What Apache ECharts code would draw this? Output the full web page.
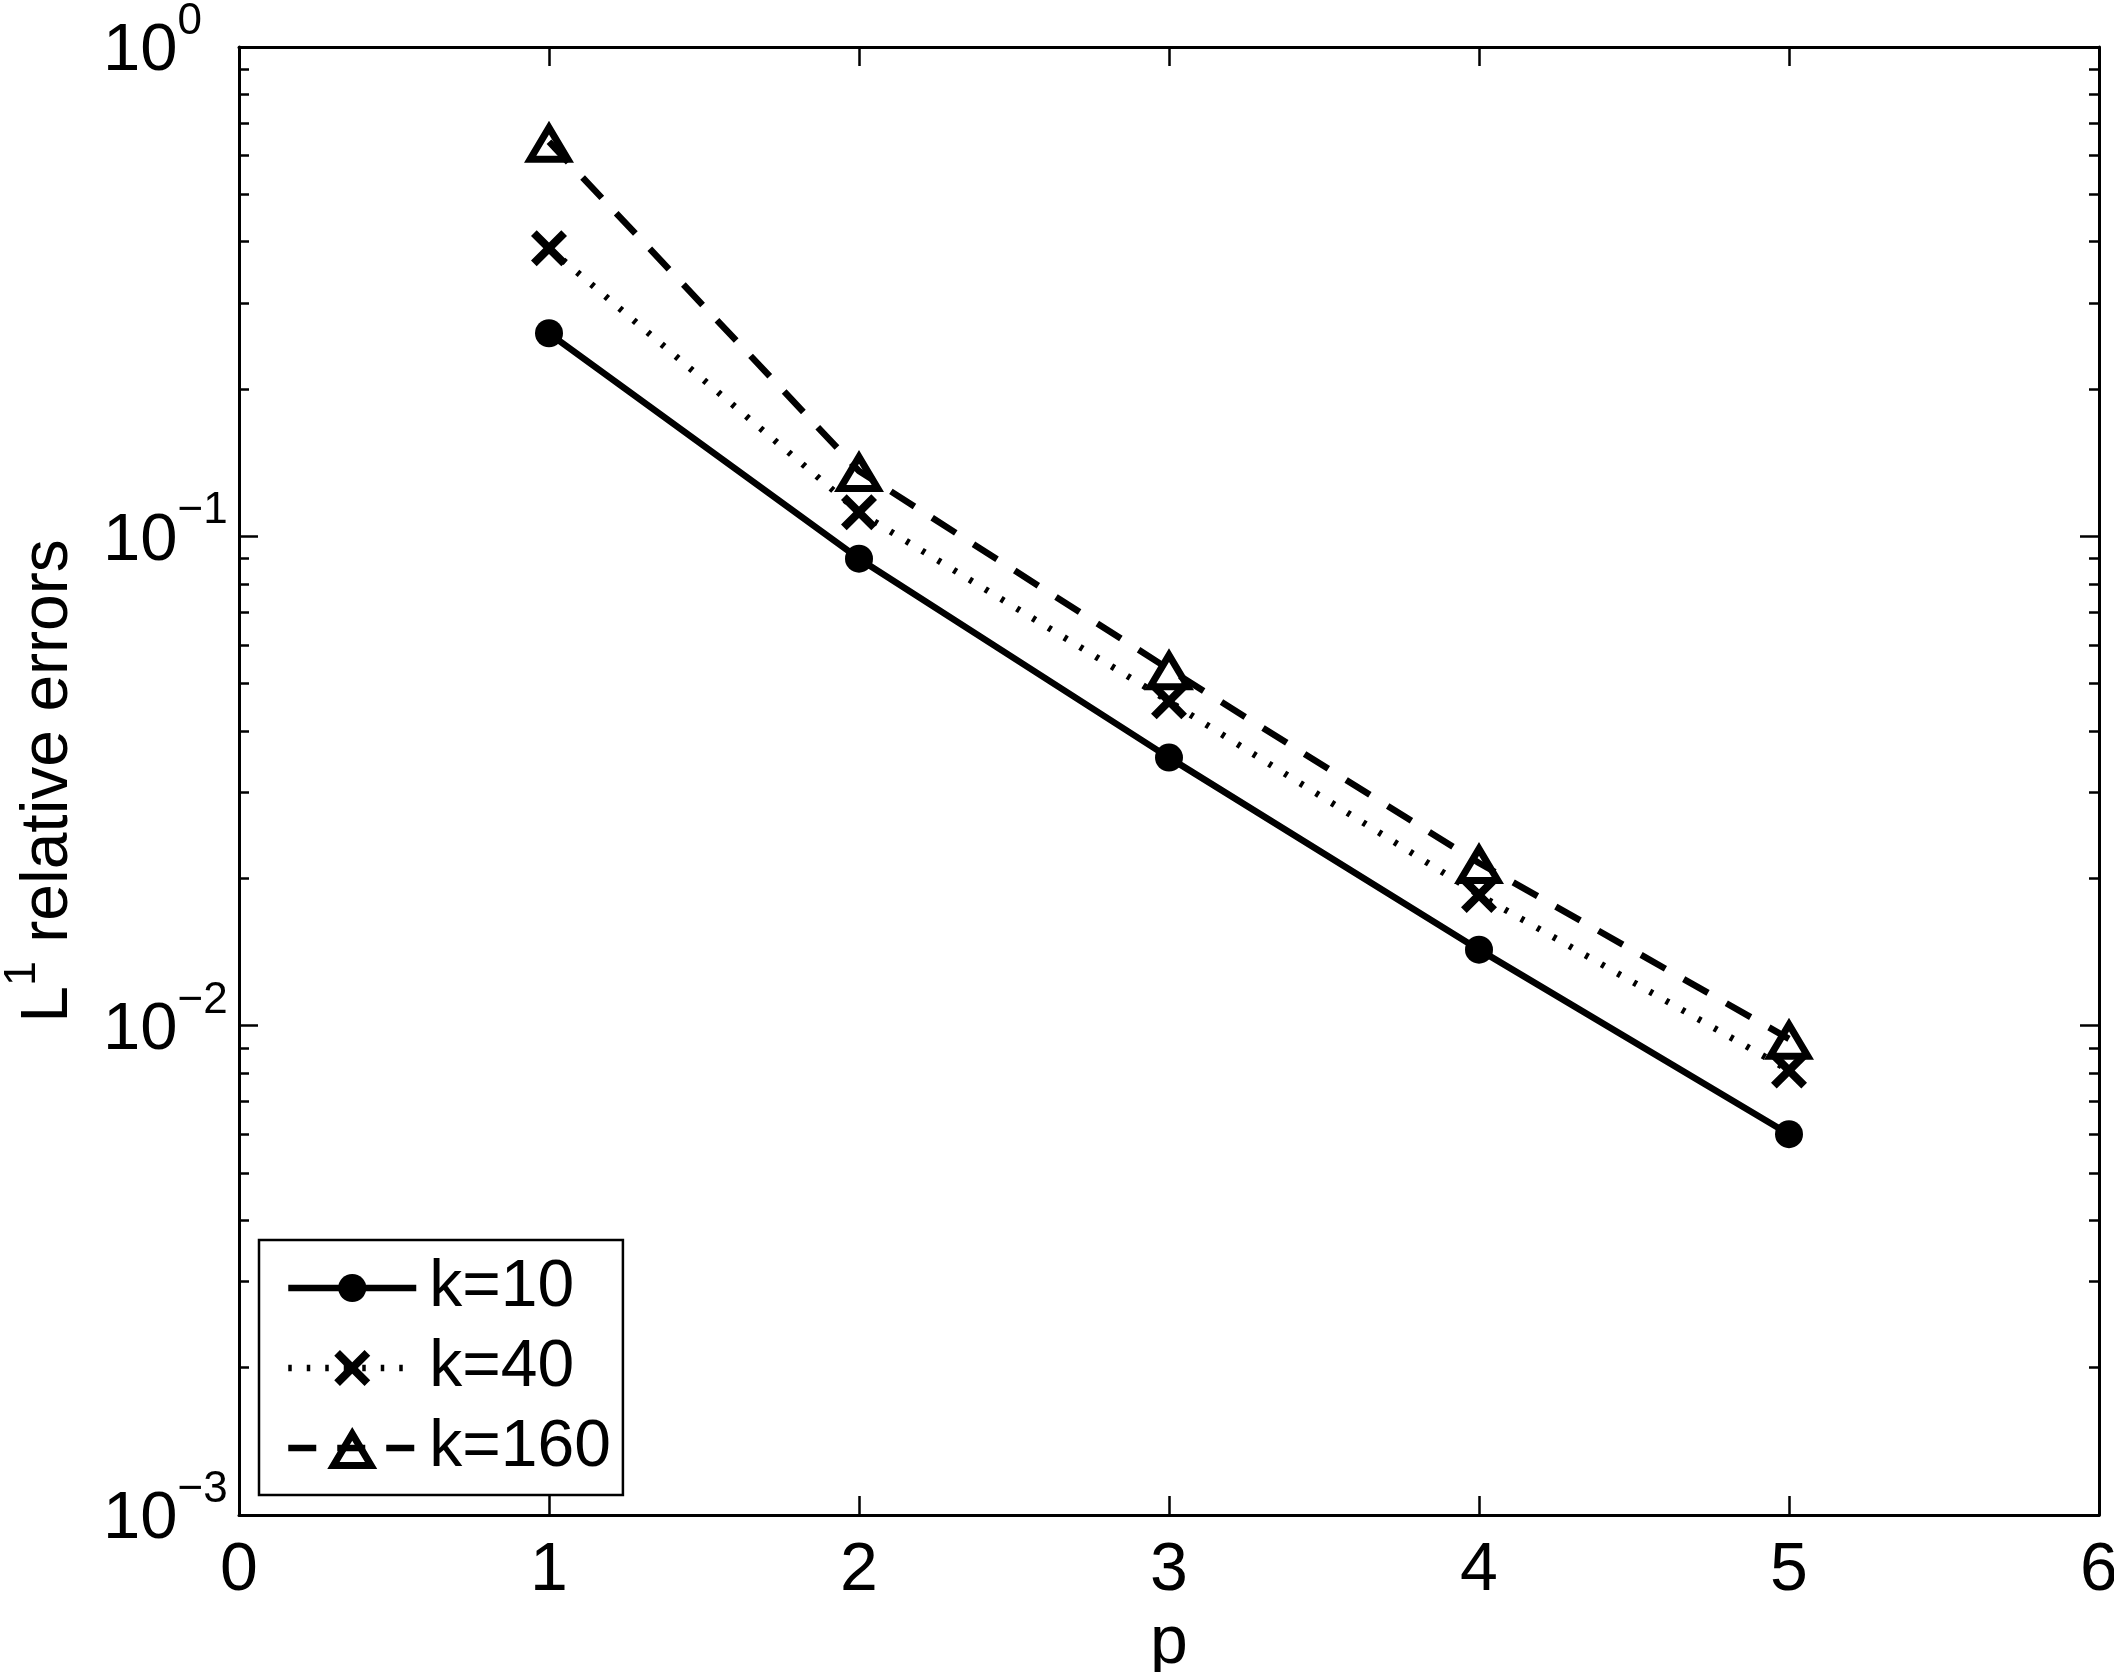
<!DOCTYPE html>
<html>
<head>
<meta charset="utf-8">
<script src="https://cdn.jsdelivr.net/npm/echarts@6/dist/echarts.min.js"></script>
<style>
html,body{margin:0;padding:0;background:#fff;}
#chart{width:2114px;height:1672px;}
</style>
</head>
<body>
<div id="chart"></div>
<script>
// ---- data ----
const pValues = [1, 2, 3, 4, 5];
const errK10 = [0.26, 0.090, 0.0353, 0.0143, 0.0060];
const errK40 = [0.388, 0.112, 0.046, 0.0185, 0.0081];
const errK160 = [0.64, 0.136, 0.0535, 0.0215, 0.0094];
const seriesNames = ['k=10', 'k=40', 'k=160'];
const xTickLabels = ['0', '1', '2', '3', '4', '5', '6'];
const yTickExponents = ['\u22123', '\u22122', '\u22121', '0'];
const yAxisTitle = ['L', '1', ' relative errors'];
const xAxisTitle = 'p';
const minorMantissas = [2, 3, 4, 5, 6, 7, 8, 9];
const minorDecades = [-3, -2, -1];

const FONT = '"Liberation Sans", Arial, Helvetica, sans-serif';

const minorLogTicks = [];
minorDecades.forEach(d => minorMantissas.forEach(m => minorLogTicks.push(d + Math.log10(m))));

const pairs = arr => pValues.map((p, i) => [p, arr[i]]);

// symbols in a common 50x50 box
const SYM_CIRCLE = 'path://M0,0 M50,50 M11,25 A14,14 0 1,1 39,25 A14,14 0 1,1 11,25 Z';
const SYM_CROSS = 'path://M0,0 M50,50 M7,12.7 L12.7,7 L25,19.3 L37.3,7 L43,12.7 L30.7,25 L43,37.3 L37.3,43 L25,30.7 L12.7,43 L7,37.3 L19.3,25 Z';
const SYM_TRI = 'path://M0,0 M50,50 M25,4 L50,46 L0,46 Z M25,17.7 L12.32,38.99 L37.68,38.99 Z';

const LW = 6.5;
const axisLineStyle = {onZero: false, lineStyle: {color: '#000', width: 3}};

const chart = echarts.init(document.getElementById('chart'), null, {renderer: 'canvas'});

const option = {
  animation: false,
  backgroundColor: '#fff',
  grid: {left: 239, right: 15, top: 47, bottom: 157, containLabel: false, outerBoundsMode: 'none'},
  xAxis: [
    {
      type: 'value', min: 0, max: 6, interval: 1, position: 'bottom',
      name: xAxisTitle, nameLocation: 'middle', nameGap: 87,
      nameTextStyle: {fontSize: 68, fontFamily: FONT, color: '#000'},
      axisLine: axisLineStyle,
      axisTick: {inside: true, length: 19, lineStyle: {color: '#000', width: 2.5}},
      axisLabel: {margin: 22, fontSize: 68, fontFamily: FONT, color: '#000',
        formatter: v => xTickLabels[Math.round(v)]},
      splitLine: {show: false}
    },
    {
      type: 'value', min: 0, max: 6, interval: 1, position: 'top',
      axisLine: axisLineStyle,
      axisTick: {inside: true, length: 19, lineStyle: {color: '#000', width: 2.5}},
      axisLabel: {show: false},
      splitLine: {show: false}
    }
  ],
  yAxis: [
    {
      type: 'log', logBase: 10, min: 0.001, max: 1, position: 'left',
      name: '{b|' + yAxisTitle[0] + '}{s|' + yAxisTitle[1] + '}{b|' + yAxisTitle[2] + '}',
      nameLocation: 'middle', nameGap: 141,
      nameTextStyle: {
        color: '#000', fontFamily: FONT,
        rich: {
          b: {fontSize: 66, fontFamily: FONT, color: '#000', lineHeight: 98, verticalAlign: 'middle'},
          s: {fontSize: 45, fontFamily: FONT, color: '#000', lineHeight: 45, verticalAlign: 'top'}
        }
      },
      axisLine: axisLineStyle,
      axisTick: {inside: true, length: 19, lineStyle: {color: '#000', width: 2.5}},
      axisLabel: {
        align: 'left', margin: 136,
        formatter: v => '{b|10}{s|' + yTickExponents[Math.round(Math.log10(v)) + 3] + '}',
        rich: {
          b: {fontSize: 67, fontFamily: FONT, color: '#000', lineHeight: 94, verticalAlign: 'middle', padding: [10, 0, 0, 0]},
          s: {fontSize: 44, fontFamily: FONT, color: '#000', lineHeight: 44, verticalAlign: 'top'}
        }
      },
      splitLine: {show: false},
      minorTick: {show: false}
    },
    {
      type: 'value', min: -3, max: 0, position: 'left',
      axisLine: {show: false, onZero: false},
      axisTick: {inside: true, length: 10, customValues: minorLogTicks, lineStyle: {color: '#000', width: 2.5}},
      axisLabel: {show: false},
      splitLine: {show: false}
    },
    {
      type: 'log', logBase: 10, min: 0.001, max: 1, position: 'right',
      axisLine: axisLineStyle,
      axisTick: {inside: true, length: 19, lineStyle: {color: '#000', width: 2.5}},
      axisLabel: {show: false},
      splitLine: {show: false}
    },
    {
      type: 'value', min: -3, max: 0, position: 'right',
      axisLine: {show: false, onZero: false},
      axisTick: {inside: true, length: 10, customValues: minorLogTicks, lineStyle: {color: '#000', width: 2.5}},
      axisLabel: {show: false},
      splitLine: {show: false}
    }
  ],
  legend: {
    orient: 'vertical',
    left: 259, top: 1240,
    padding: [15, 12, 14, 26],
    itemWidth: 128, itemHeight: 62.5, itemGap: 14,
    borderColor: '#000', borderWidth: 2.5, backgroundColor: '#fff',
    selectedMode: false,
    lineStyle: {width: LW},
    textStyle: {fontSize: 66, fontFamily: FONT, color: '#000', lineHeight: 66, padding: [0, 0, 0, 8]},
    data: seriesNames
  },
  series: [
    {
      name: seriesNames[0], type: 'line', xAxisIndex: 0, yAxisIndex: 0,
      data: pairs(errK10),
      symbol: SYM_CIRCLE, symbolSize: 50, symbolKeepAspect: true,
      lineStyle: {color: '#000', width: LW, type: 'solid'},
      itemStyle: {color: '#000', borderWidth: 0}
    },
    {
      name: seriesNames[1], type: 'line', xAxisIndex: 0, yAxisIndex: 0,
      data: pairs(errK40),
      symbol: SYM_CROSS, symbolSize: 50, symbolKeepAspect: true,
      lineStyle: {color: '#000', width: LW, type: [3.5, 15], cap: 'butt'},
      itemStyle: {color: '#000', borderWidth: 0}
    },
    {
      name: seriesNames[2], type: 'line', xAxisIndex: 0, yAxisIndex: 0,
      data: pairs(errK160),
      symbol: SYM_TRI, symbolSize: 50, symbolKeepAspect: true,
      lineStyle: {color: '#000', width: LW, type: [28, 21], cap: 'butt'},
      itemStyle: {color: '#000', borderWidth: 0}
    }
  ]
};
chart.setOption(option);
</script>
</body>
</html>
